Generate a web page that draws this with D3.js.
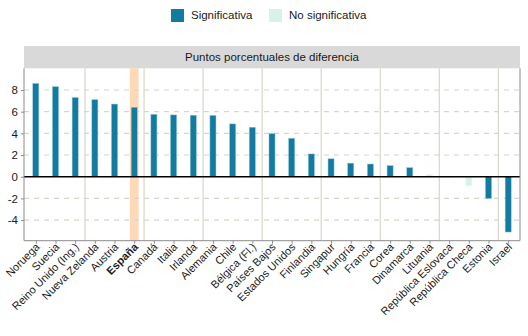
<!DOCTYPE html>
<html><head><meta charset="utf-8">
<script src="https://cdn.jsdelivr.net/npm/d3@7"></script>
<style>
html,body{margin:0;padding:0;background:#fff;}
svg{display:block;font-family:"Liberation Sans",Arial,Helvetica,sans-serif;}
</style></head>
<body><svg id="c" width="528" height="336"></svg>
<script>
const countries = ["Noruega","Suecia","Reino Unido (Ing.)","Nueva Zelanda","Austria","España","Canadá","Italia","Irlanda","Alemania","Chile","Bélgica (Fl.)","Países Bajos","Estados Unidos","Finlandia","Singapur","Hungría","Francia","Corea","Dinamarca","Lituania","República Eslovaca","República Checa","Estonia","Israel"];
const values = [8.6,8.3,7.3,7.1,6.7,6.4,5.75,5.7,5.67,5.65,4.87,4.56,3.97,3.54,2.1,1.65,1.25,1.17,1.02,0.83,0.2,-0.05,-0.85,-2.0,-5.1];
const significant = [1,1,1,1,1,1,1,1,1,1,1,1,1,1,1,1,1,1,1,1,0,0,0,1,1];
const yTicks = [-4,-2,0,2,4,6,8];
const legendLabels = ["Significativa","No significativa"];
const stripTitle = "Puntos porcentuales de diferencia";
const highlight = "España";
const groupSize = 3;

const FONT = '"Liberation Sans",Arial,Helvetica,sans-serif';
const colSig = "#137aa0", colNon = "#d9f1ea";
const svg = d3.select("#c");
const L = 24, R = 520, T = 68.3, B = 240.7;

const x = d3.scalePoint().domain(countries).range([L, R]).padding(0.6);
const y = d3.scaleLinear().domain([-5.9, 10]).range([B, T]);
const step = x.step();

// strip
svg.append("rect").attr("x", L).attr("y", 46).attr("width", R - L).attr("height", T - 46).attr("fill", "#d9d9d9");
svg.append("text").attr("x", (L + R) / 2).attr("y", 57.5).attr("text-anchor", "middle")
  .attr("dominant-baseline", "middle").attr("font-size", 11.5).attr("fill", "#1a1a1a").text(stripTitle);

// highlight
svg.append("rect").attr("x", x(highlight) - 4.4).attr("y", T).attr("width", 8.8).attr("height", B - T)
  .attr("fill", "#fdd9b8");

// horizontal grid
svg.append("g").selectAll("line").data(yTicks.filter(d => d !== 0)).join("line")
  .attr("x1", L).attr("x2", R).attr("y1", d => y(d)).attr("y2", d => y(d))
  .attr("stroke", "#d6d6ca").attr("stroke-width", 1.1).attr("stroke-dasharray", "5,5");

// vertical separators
const seps = d3.range(groupSize, countries.length, groupSize).map(i => x(countries[i]) - step / 2);
svg.append("g").selectAll("line").data(seps).join("line")
  .attr("x1", d => d).attr("x2", d => d).attr("y1", T).attr("y2", B)
  .attr("stroke", "#d6d6ca").attr("stroke-width", 1.2);

// bars
const bw = 6;
svg.append("g").selectAll("rect").data(countries).join("rect")
  .attr("x", d => x(d) - bw / 2)
  .attr("y", (d, i) => y(Math.max(0, values[i])))
  .attr("width", bw)
  .attr("height", (d, i) => Math.abs(y(values[i]) - y(0)))
  .attr("fill", (d, i) => significant[i] ? colSig : colNon)
  .attr("stroke", (d, i) => significant[i] ? "#7fbfd6" : "#e6f7f2").attr("stroke-width", 0.5);

// zero line
svg.append("line").attr("x1", L).attr("x2", R).attr("y1", y(0)).attr("y2", y(0))
  .attr("stroke", "#000").attr("stroke-width", 1.5);

// panel border right
svg.append("line").attr("x1", R).attr("x2", R).attr("y1", T).attr("y2", B).attr("stroke", "#8c8c8c").attr("stroke-width", 1);

// y axis
const ya = svg.append("g").attr("transform", `translate(${L},0)`)
  .call(d3.axisLeft(y).tickValues(yTicks).tickSize(3).tickPadding(3).tickFormat(d3.format("d")))
  .attr("font-family", FONT);
ya.select(".domain").attr("stroke", "#8c8c8c");
ya.selectAll(".tick line").attr("stroke", "#8c8c8c");
ya.selectAll(".tick text").attr("font-size", 11.5).attr("fill", "#1a1a1a")
  .text(d => d < 0 ? "-" + Math.abs(d) : d);
ya.select(".domain").attr("d", `M0,${T}V${B}`);

// x axis
const xa = svg.append("g").attr("transform", `translate(0,${B})`)
  .call(d3.axisBottom(x).tickSize(3).tickPadding(2))
  .attr("font-family", FONT);
xa.select(".domain").attr("d", `M${L},0H${R}`).attr("stroke", "#8c8c8c");
xa.selectAll(".tick line").attr("stroke", "#8c8c8c");
xa.selectAll(".tick text").attr("font-size", 11).attr("fill", "#1a1a1a")
  .attr("text-anchor", "end").attr("dy", null).attr("y", 0)
  .attr("transform", "translate(4,7) rotate(-45)")
  .attr("font-weight", d => d === highlight ? "bold" : null);

// legend
const lg = svg.append("g");
const lx = [171, 269];
legendLabels.forEach((t, i) => {
  lg.append("rect").attr("x", lx[i]).attr("y", 9).attr("width", 13).attr("height", 13)
    .attr("fill", i === 0 ? colSig : colNon);
  lg.append("text").attr("x", lx[i] + 20).attr("y", 15.8).attr("dominant-baseline", "middle")
    .attr("font-size", 11.5).attr("fill", "#1a1a1a").text(t);
});
</script></body></html>
